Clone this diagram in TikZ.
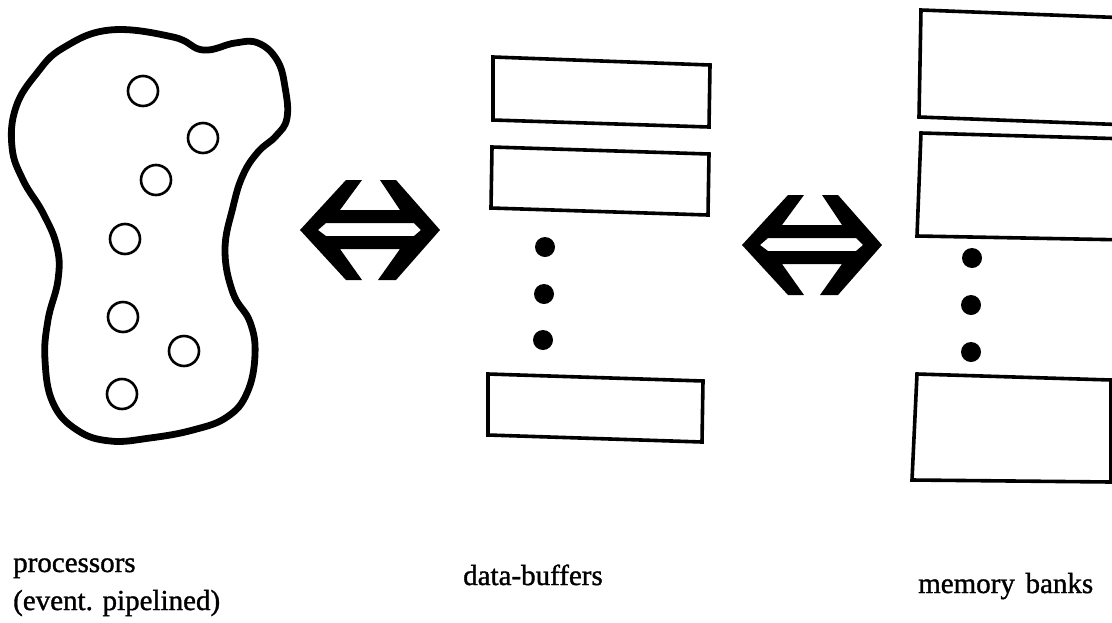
\documentclass[tikz,border=0pt]{standalone}
\usepackage{fontspec}
\setmainfont{Liberation Serif}
\newfontfamily\capfont[FakeBold=1.2]{Liberation Serif}
\begin{document}
\begin{tikzpicture}[x=1pt,y=-1pt,
  blob/.style={line width=6.8pt,line join=round},
  proc/.style={line width=2.6pt},
  bufbox/.style={line width=3.6pt,line join=miter},
  dot/.style={fill=black},
  lbl/.style={anchor=base west,inner sep=0pt,font=\capfont\fontsize{29}{31}\selectfont},
  pics/biarrow/.style={code={
    \fill[even odd rule]
      (-24,-50) -- (-8,-50) -- (-30,-20) -- (30,-20) -- (10,-50) -- (26,-50)
      -- (70,0) -- (26,50) -- (8,50) -- (30,19) -- (-30,19) -- (-8,50)
      -- (-24,50) -- (-70,0) -- cycle
      (-52,0) -- (-44,-7) -- (44,-7) -- (51,0) -- (44,6) -- (-44,6) -- cycle;
  }}]
\useasboundingbox (0,0) rectangle (1112,622);
\clip (0,0) rectangle (1112,622);

% processor cluster outline
\draw[blob] plot[smooth cycle,tension=0.7] coordinates {
  (110,30) (173,37) (203,50) (235,43) (258,43) (277,60) (285,87) (287,118)
  (276,136) (258,152) (243,175) (233,207) (225,250) (233,293) (250,322)
  (255,355) (247,393) (227,417) (193,430) (150,438) (110,441) (77,430)
  (53,403) (45,360) (48,320) (58,280) (57,247) (43,213) (23,180) (12,147)
  (16,107) (37,73) (63,48)};

% processors
\foreach \p in {(143,91),(203,138),(156,180),(125,239),(123,317),(184,351),(122,394)}
  \draw[proc] \p circle[radius=15];

% double arrows
\pic at (370,230) {biarrow};
\pic at (812,245) {biarrow};

% data buffers
\draw[bufbox] (493,57) -- (710,65) -- (709,127) -- (493,120) -- cycle;
\draw[bufbox] (492,147) -- (709,154) -- (708,215) -- (491,208) -- cycle;
\draw[bufbox] (488,374) -- (703,381) -- (702,442) -- (488,435) -- cycle;
\fill[dot] (545,247) circle[radius=10];
\fill[dot] (544,294) circle[radius=10];
\fill[dot] (543,340) circle[radius=10];

% memory banks
\draw[bufbox] (1130,18) -- (921,10) -- (919,117) -- (1130,125);
\draw[bufbox] (1130,139) -- (921,133) -- (917,236) -- (1130,240);
\draw[bufbox] (1111,380) -- (917,374) -- (912,480) -- (1111,482) -- cycle;
\fill[dot] (972,258) circle[radius=10];
\fill[dot] (971,305) circle[radius=10];
\fill[dot] (971,352) circle[radius=10];

% captions
\node[lbl] (cproc) at (13,572) {processors};
\node[lbl] (cproc2) at (13,610) {(event. pipelined)};
\node[lbl] (cbuf) at (463,585) {data-buffers};
\node[lbl] (cmem) at (918,593) {memory\hspace{0.12em} banks};
\end{tikzpicture}
\end{document}
